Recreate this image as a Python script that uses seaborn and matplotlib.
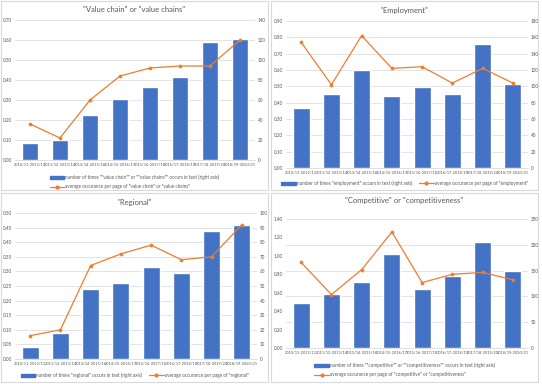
import numpy as np
import pandas as pd
import matplotlib.pyplot as plt
import seaborn as sns
from matplotlib.patches import Rectangle, Patch
from matplotlib.lines import Line2D

# data
periods = ['2010/11-2012/13', '2011/12-2013/14', '2013/14-2015/16', '2014/15-2016/17',
           '2015/16-2017/18', '2016/17-2018/19', '2017/18-2019/20', '2018/19-2020/21']

vc_count = [17, 20, 45, 61, 73, 83, 118, 121]
vc_avg = [0.18, 0.11, 0.30, 0.42, 0.46, 0.47, 0.47, 0.60]

emp_count = [73, 91, 120, 88, 99, 91, 152, 103]
emp_avg = [0.77, 0.51, 0.81, 0.61, 0.62, 0.52, 0.61, 0.52]

reg_count = [8, 18, 48, 52, 63, 59, 88, 92]
reg_avg = [0.08, 0.10, 0.32, 0.36, 0.39, 0.34, 0.35, 0.46]

comp_count = [88, 104, 128, 183, 114, 140, 206, 149]
comp_avg = [0.93, 0.58, 0.85, 1.26, 0.71, 0.80, 0.82, 0.74]

BLUE = '#4472c4'
ORANGE = '#ed7d31'
GREY = '#595959'
GRID = '#d9d9d9'

sns.set_theme(style='white')
plt.rcParams['font.family'] = ['Lato', 'DejaVu Sans']

W, H = 542, 384
fig = plt.figure(figsize=(5.42, 3.84), dpi=100)


def px(x0, y0, x1, y1):
    return [x0 / W, 1 - y1 / H, (x1 - x0) / W, (y1 - y0) / H]


def panel(box, plot, title, title_y, count, avg, lmax, lstep, rmax, rstep,
          bar_lab, line_lab, ncol, leg_y):
    # chart border
    fig.patches.append(Rectangle((box[0] / W, 1 - box[3] / H), (box[2] - box[0]) / W,
                                 (box[3] - box[1]) / H, transform=fig.transFigure,
                                 fill=False, ec=GRID, lw=0.8))
    df = pd.DataFrame({'period': periods, 'count': count, 'avg': avg})

    ax = fig.add_axes(px(*plot))
    sns.barplot(data=df, x='period', y='count', color=BLUE, saturation=1,
                width=0.56, ax=ax)
    ax.set_ylim(0, rmax)
    ax.set_yticks(np.arange(0, rmax + rstep / 2, rstep))
    ax.grid(axis='y', color=GRID, lw=0.5)
    ax.set_axisbelow(True)

    tw = ax.twinx()
    sns.pointplot(data=df, x='period', y='avg', color=ORANGE, markers='o',
                  markersize=2, linewidth=0.9, ax=tw)
    # bars use the right axis, the line the left one
    ax.yaxis.tick_right()
    tw.yaxis.tick_left()
    tw.set_ylim(0, lmax)
    lt = np.arange(0, lmax + lstep / 2, lstep)
    tw.set_yticks(lt)
    tw.set_yticklabels(['%.2f' % v for v in lt])
    ax.set_xlim(-0.5, 7.5)

    for a in (ax, tw):
        a.set_xlabel('')
        a.set_ylabel('')
        a.tick_params(length=0, labelsize=3.3, labelcolor=GREY, pad=2)
        for s in a.spines.values():
            s.set_visible(False)
    ax.tick_params(axis='x', labelsize=2.75)
    ax.spines['bottom'].set_visible(True)
    ax.spines['bottom'].set_color(GRID)
    ax.spines['bottom'].set_linewidth(0.6)

    cx = (box[0] + box[2]) / 2
    fig.text(cx / W, 1 - title_y / H, title, ha='center', va='center',
             fontsize=5.5, color=GREY)

    handles = [Patch(color=BLUE), Line2D([], [], color=ORANGE, marker='o', ms=2, lw=0.9)]
    fig.legend(handles, [bar_lab, line_lab], loc='center', ncol=ncol,
               bbox_to_anchor=(cx / W, 1 - leg_y / H), frameon=False,
               fontsize=3.3, labelcolor=GREY, handlelength=3.2, handleheight=0.6,
               handletextpad=0.2, columnspacing=1.5, labelspacing=0.9)


panel((1, 1, 268, 190), (15, 20, 255, 160), '"Value chain" or "value chains"', 10,
      vc_count, vc_avg, 0.70, 0.10, 140, 20,
      'number of times ""value chain"" or ""value chains"" occurs in text (right axis)',
      'average occurance per page of "value chain" or "value chains"', 1, 182)

panel((271, 1, 538, 190), (286, 21, 528, 168), '"Employment"', 11,
      emp_count, emp_avg, 0.90, 0.10, 180, 20,
      'number of times "employment" occurs in text (right axis)',
      'average occurance per page of "employment"', 2, 183)

panel((1, 193, 268, 382), (15, 213, 257, 359), '"Regional"', 202,
      reg_count, reg_avg, 0.50, 0.05, 100, 10,
      'number of times "regional" occurs in text (right axis)',
      'average occurance per page of "regional"', 2, 375)

panel((271, 193, 538, 382), (286, 219, 528, 348), '"Competitive" or "competitiveness"', 200,
      comp_count, comp_avg, 1.40, 0.20, 250, 50,
      'number of times ""competitive"" or ""competitiveness"" occurs in text (right axis)',
      'average occurance per page of "competitive" or "competitiveness"', 1, 370)

fig.savefig('out.png', dpi=100)
